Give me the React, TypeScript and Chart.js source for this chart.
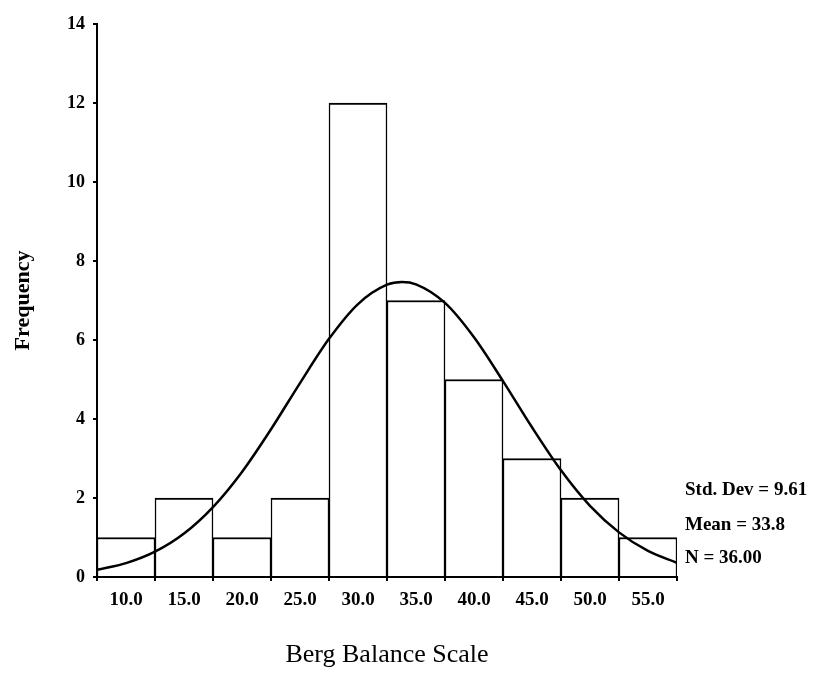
import { useEffect, useRef } from 'react';
import { Chart, registerables } from 'chart.js';
Chart.register(...registerables);

const binCenters = [10, 15, 20, 25, 30, 35, 40, 45, 50, 55];
const frequencies = [1, 2, 1, 2, 12, 7, 5, 3, 2, 1];
const curveX = [7.5, 10, 12.5, 15, 17.5, 20, 22.5, 25, 27.5, 30, 32.5, 33.8, 35, 37.5, 40, 42.5, 45, 47.5, 50, 52.5, 55, 57.5];
const curveY = [0.18, 0.35, 0.64, 1.1, 1.77, 2.66, 3.74, 4.91, 6.03, 6.91, 7.4, 7.47, 7.41, 6.94, 6.07, 4.96, 3.79, 2.7, 1.8, 1.13, 0.66, 0.36];
const xTickValues = [10, 15, 20, 25, 30, 35, 40, 45, 50, 55];
const xTickLabels = ['10.0', '15.0', '20.0', '25.0', '30.0', '35.0', '40.0', '45.0', '50.0', '55.0'];
const statLabels = ['Std. Dev = 9.61', 'Mean = 33.8', 'N = 36.00'];

const SERIF = '"Liberation Serif", "Times New Roman", serif';

const statsPlugin = {
  id: 'stats',
  afterDraw(chart: any) {
    const { ctx, chartArea } = chart;
    ctx.save();
    ctx.fillStyle = '#000';
    ctx.font = `bold 19px ${SERIF}`;
    ctx.textAlign = 'left';
    ctx.textBaseline = 'middle';
    const offsets = [87, 52, 19];
    statLabels.forEach((t, i) => {
      ctx.fillText(t, chartArea.right + 8, chartArea.bottom - offsets[i]);
    });
    ctx.restore();
  },
};

export default function App() {
  const ref = useRef<HTMLCanvasElement>(null);
  useEffect(() => {
    if (!ref.current) return;
    const chart = new Chart(ref.current, {
      type: 'bar',
      data: {
        datasets: [
          {
            type: 'line',
            data: curveX.map((x, i) => ({ x, y: curveY[i] })),
            borderColor: '#000',
            borderWidth: 2.5,
            pointRadius: 0,
            cubicInterpolationMode: 'monotone',
            fill: false,
            order: 0,
          } as any,
          {
            type: 'bar',
            data: binCenters.map((x, i) => ({ x, y: frequencies[i] })),
            backgroundColor: '#fff',
            borderColor: '#000',
            borderWidth: { top: 2, left: 1.5, right: 1.5, bottom: 0 },
            borderSkipped: false,
            barPercentage: 1,
            categoryPercentage: 1,
            order: 1,
          } as any,
        ],
      },
      plugins: [statsPlugin],
      options: {
        animation: false,
        responsive: false,
        maintainAspectRatio: false,
        layout: { padding: { left: 0, top: 24, right: 140, bottom: 0 } },
        plugins: { legend: { display: false }, tooltip: { enabled: false } },
        scales: {
          x: {
            type: 'linear',
            min: 7.5,
            max: 57.5,
            offset: false,
            afterBuildTicks: (scale: any) => {
              scale.ticks = xTickValues.map((v) => ({ value: v }));
            },
            afterFit: (scale: any) => {
              scale.height = 100;
            },
            grid: { drawOnChartArea: false, drawTicks: true, tickLength: 4, color: '#000', lineWidth: 2 },
            border: { display: true, color: '#000', width: 2 },
            ticks: {
              color: '#000',
              font: { family: SERIF, size: 19, weight: 'bold' },
              padding: 8,
              maxRotation: 0,
              autoSkip: false,
              callback: (_v: any, i: number) => xTickLabels[i],
            },
            title: {
              display: true,
              text: 'Berg Balance Scale',
              color: '#000',
              font: { family: SERIF, size: 26, weight: 'normal' },
              padding: { top: 0, bottom: 6 },
            },
          },
          y: {
            type: 'linear',
            min: 0,
            max: 14,
            afterFit: (scale: any) => {
              scale.width = 97;
            },
            grid: { drawOnChartArea: false, drawTicks: true, tickLength: 4, color: '#000', lineWidth: 2 },
            border: { display: true, color: '#000', width: 2 },
            ticks: {
              stepSize: 2,
              color: '#000',
              font: { family: SERIF, size: 18, weight: 'bold' },
              padding: 8,
            },
            title: {
              display: true,
              text: 'Frequency',
              color: '#000',
              font: { family: SERIF, size: 22, weight: 'bold' },
              padding: { top: 10, bottom: 0 },
            },
          },
        },
      } as any,
    });
    return () => chart.destroy();
  }, []);
  return (
    <div style={{ position: 'absolute', left: 0, top: 0, width: 817, height: 677, background: '#fff' }}>
      <canvas ref={ref} width={817} height={677} style={{ width: 817, height: 677 }} />
    </div>
  );
}
